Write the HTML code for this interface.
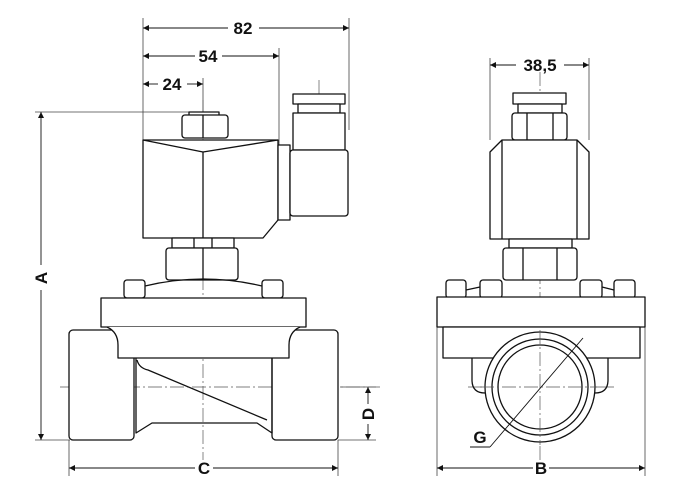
<!DOCTYPE html>
<html><head><meta charset="utf-8"><style>
html,body{margin:0;padding:0;background:#fff;width:690px;height:484px;overflow:hidden}
svg{display:block}
text{font-family:"Liberation Sans",sans-serif;font-weight:bold;font-size:17px;fill:#111}
</style></head><body>
<svg width="690" height="484" viewBox="0 0 690 484" xmlns="http://www.w3.org/2000/svg">
<defs>
<marker id="ar" viewBox="0 0 10 10" refX="10" refY="5" markerWidth="8" markerHeight="6" orient="auto-start-reverse" markerUnits="userSpaceOnUse"><path d="M0,0 L10,5 L0,10 z" fill="#111"/></marker>
</defs>
<g fill="none" stroke="#111" stroke-width="1.3" stroke-linejoin="round">
<g stroke="#444" stroke-width="0.8">
<line x1="143" y1="18" x2="143" y2="140"/>
<line x1="279" y1="48" x2="279" y2="145"/>
<line x1="349" y1="18" x2="349" y2="130"/>
<line x1="203" y1="78" x2="203" y2="112"/>
<line x1="35" y1="112" x2="200" y2="112"/>
<line x1="35" y1="440" x2="70" y2="440"/>
<line x1="69" y1="440" x2="69" y2="476"/>
<line x1="338" y1="440" x2="338" y2="476"/>
<line x1="338" y1="440" x2="376" y2="440"/>
<line x1="340" y1="387" x2="376" y2="387"/>
<line x1="490" y1="58" x2="490" y2="140"/>
<line x1="589" y1="58" x2="589" y2="140"/>
<line x1="437" y1="327" x2="437" y2="476"/>
<line x1="645" y1="327" x2="645" y2="476"/>
</g>
<g stroke="#111" stroke-width="0.9">
<line x1="143" y1="28" x2="228" y2="28" marker-start="url(#ar)"/>
<line x1="259" y1="28" x2="349" y2="28" marker-end="url(#ar)"/>
<line x1="143" y1="56" x2="195" y2="56" marker-start="url(#ar)"/>
<line x1="222" y1="56" x2="279" y2="56" marker-end="url(#ar)"/>
<line x1="143" y1="84" x2="158" y2="84" marker-start="url(#ar)"/>
<line x1="187" y1="84" x2="203" y2="84" marker-end="url(#ar)"/>
<line x1="41" y1="112" x2="41" y2="265" marker-start="url(#ar)"/>
<line x1="41" y1="290" x2="41" y2="440" marker-end="url(#ar)"/>
<line x1="69" y1="468" x2="195" y2="468" marker-start="url(#ar)"/>
<line x1="213" y1="468" x2="338" y2="468" marker-end="url(#ar)"/>
<line x1="368" y1="387" x2="368" y2="404" marker-start="url(#ar)"/>
<line x1="368" y1="424" x2="368" y2="440" marker-end="url(#ar)"/>
<line x1="490" y1="65" x2="516" y2="65" marker-start="url(#ar)"/>
<line x1="564" y1="65" x2="589" y2="65" marker-end="url(#ar)"/>
<line x1="437" y1="468" x2="533" y2="468" marker-start="url(#ar)"/>
<line x1="549" y1="468" x2="645" y2="468" marker-end="url(#ar)"/>
<line x1="470" y1="447" x2="490" y2="447"/>
</g>
<g stroke="#555" stroke-width="0.7" stroke-dasharray="14,3,2,3">
<line x1="203" y1="100" x2="203" y2="460"/>
<line x1="319" y1="80" x2="319" y2="165"/>
<line x1="60" y1="387" x2="380" y2="387"/>
<line x1="540" y1="72" x2="540" y2="460"/>
<line x1="468" y1="387" x2="614" y2="387"/>
</g>
<rect x="189" y="112" width="30" height="4" fill="#fff"/>
<rect x="182" y="115" width="46" height="23" rx="3" fill="#fff"/>
<line x1="203" y1="115" x2="203" y2="138"/>
<path d="M143,140 H278 V220 L263,238 H143 Z" fill="#fff"/>
<path d="M143,140 L203,152 L278,140"/>
<line x1="203" y1="152" x2="203" y2="238"/>
<rect x="278" y="145" width="12" height="75" fill="#fff"/>
<rect x="293" y="94" width="52" height="10" fill="#fff"/>
<rect x="298" y="104" width="42" height="9" fill="#fff"/>
<rect x="293" y="113" width="52" height="37" fill="#fff"/>
<rect x="290" y="150" width="58" height="66" rx="3" fill="#fff"/>
<rect x="172" y="238" width="62" height="10" fill="#fff"/>
<line x1="194" y1="238" x2="194" y2="248"/><line x1="212" y1="238" x2="212" y2="248"/>
<rect x="166" y="248" width="72" height="32" rx="3" fill="#fff"/>
<line x1="203" y1="248" x2="203" y2="280"/>
<path d="M145,286 Q203,272 262,286"/>
<rect x="124" y="280" width="21" height="18" rx="3" fill="#fff"/>
<rect x="262" y="280" width="21" height="18" rx="3" fill="#fff"/>
<rect x="101" y="298" width="205" height="29" fill="#fff"/>
<rect x="69" y="330" width="65" height="110" rx="4" fill="#fff"/>
<rect x="272" y="330" width="66" height="110" rx="4" fill="#fff"/>
<path d="M107,327 Q118,332 118,345 V358 H289 V345 Q289,332 300,327" fill="#fff"/>
<path d="M136,358 V433 L152,423 H257 L272,433 V358"/>
<path d="M137,360 Q139,368 148,370 L267,420"/>
<rect x="513" y="93" width="53" height="11" fill="#fff"/>
<rect x="518" y="104" width="44" height="9" fill="#fff"/>
<rect x="512" y="113" width="55" height="27" rx="3" fill="#fff"/>
<line x1="527" y1="113" x2="527" y2="140"/><line x1="553" y1="113" x2="553" y2="140"/>
<path d="M490,152 L502,140 H577 L589,152 V239 H490 Z" fill="#fff"/>
<line x1="502" y1="140" x2="502" y2="239"/><line x1="577" y1="140" x2="577" y2="239"/>
<rect x="509" y="239" width="63" height="9" fill="#fff"/>
<rect x="503" y="248" width="74" height="32" rx="3" fill="#fff"/>
<line x1="523" y1="248" x2="523" y2="280"/><line x1="557" y1="248" x2="557" y2="280"/>
<path d="M466,290 L480,287 M602,287 L614,290"/>
<rect x="446" y="280" width="20" height="18" rx="3" fill="#fff"/>
<rect x="480" y="280" width="22" height="18" rx="3" fill="#fff"/>
<rect x="580" y="280" width="22" height="18" rx="3" fill="#fff"/>
<rect x="614" y="280" width="21" height="18" rx="3" fill="#fff"/>
<rect x="437" y="297" width="208" height="30" fill="#fff"/>
<rect x="443" y="327" width="197" height="31" fill="#fff"/>
<path d="M472,358 V380 Q472,393 485,393 M608,358 V380 Q608,393 595,393"/>
<circle cx="540" cy="387" r="55" fill="#fff"/>
<circle cx="540" cy="387" r="48"/>
<circle cx="540" cy="387" r="42"/>
<g stroke="#555" stroke-width="0.7" stroke-dasharray="14,3,2,3">
<line x1="540" y1="330" x2="540" y2="445"/>
<line x1="480" y1="387" x2="600" y2="387"/>
</g>
<line x1="490" y1="447" x2="583" y2="338" stroke-width="0.9"/>
</g>
<text x="243" y="34" text-anchor="middle">82</text>
<text x="208" y="62" text-anchor="middle">54</text>
<text x="172" y="90" text-anchor="middle">24</text>
<text x="540" y="71" text-anchor="middle">38,5</text>
<text x="204" y="474" text-anchor="middle">C</text>
<text x="541" y="474" text-anchor="middle">B</text>
<text x="480" y="443" text-anchor="middle">G</text>
<text transform="translate(47,278) rotate(-90)" text-anchor="middle">A</text>
<text transform="translate(374,414) rotate(-90)" text-anchor="middle">D</text>
</svg>
</body></html>
